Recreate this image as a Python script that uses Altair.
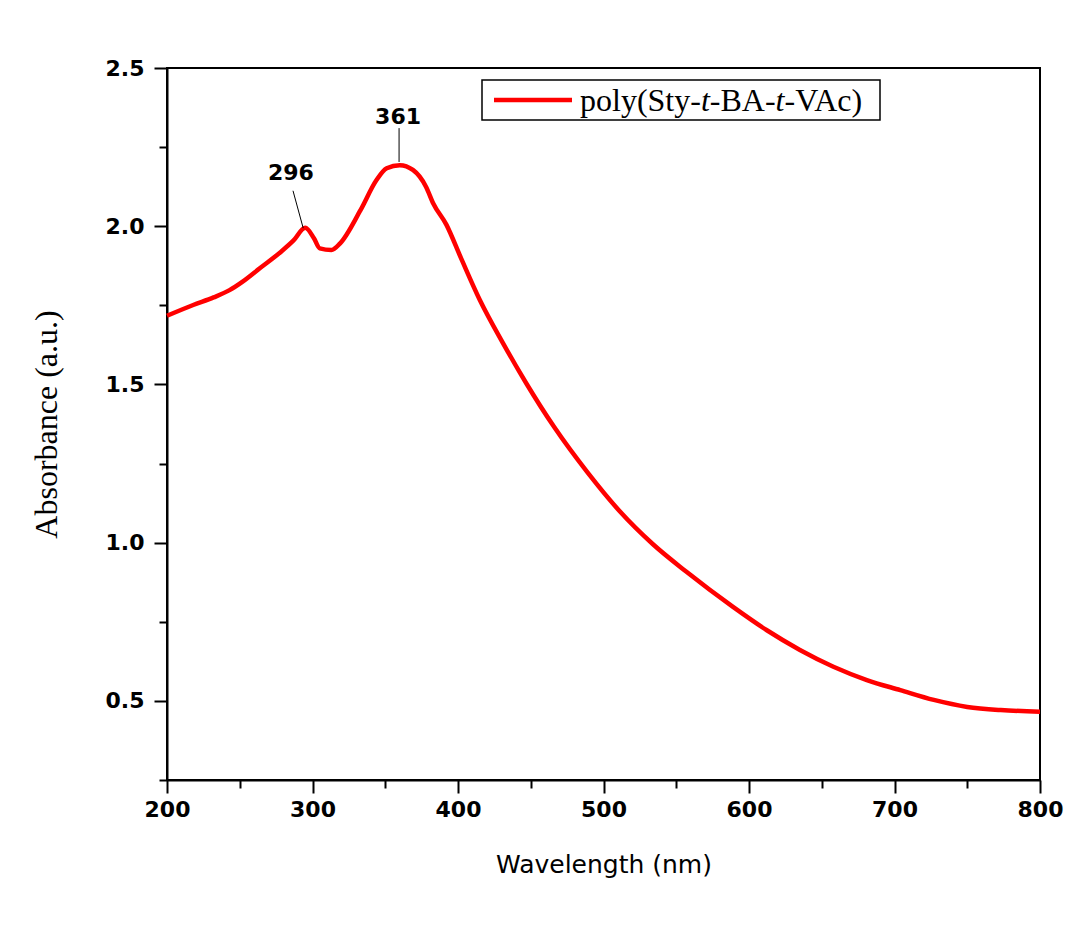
import altair as alt
import pandas as pd

# ---- data ----
wavelength = [200, 218, 232, 243, 252, 264, 278, 287, 295, 301, 305, 313, 319, 333, 344, 351,
              360, 369, 378, 383, 392, 402, 415, 431, 447, 466, 489, 511, 534, 557,
              589, 612, 635, 658, 681, 704, 727, 750, 773, 800]
absorbance = [1.717, 1.751, 1.775, 1.798, 1.825, 1.868, 1.918, 1.955, 1.995, 1.962, 1.930, 1.925,
              1.946, 2.051, 2.146, 2.183, 2.193, 2.178, 2.125, 2.072, 2.005, 1.900, 1.767,
              1.630, 1.503, 1.366, 1.222, 1.100, 0.995, 0.908, 0.797, 0.724, 0.661,
              0.608, 0.566, 0.534, 0.503, 0.481, 0.471, 0.466]

peak_labels = ["296", "361"]
label_x = [285.2, 358.8]
label_y = [2.168, 2.345]
lead_x1 = [286.6, 359.5]
lead_y1 = [2.112, 2.310]
lead_x2 = [293.6, 359.5]
lead_y2 = [1.994, 2.203]

x_ticks = [200, 250, 300, 350, 400, 450, 500, 550, 600, 650, 700, 750, 800]
y_ticks = [0.25, 0.5, 0.75, 1.0, 1.25, 1.5, 1.75, 2.0, 2.25, 2.5]

series_name = ["poly(Sty-", "t", "-BA-", "t", "-VAc)"]

df = pd.DataFrame({"Wavelength": wavelength, "Absorbance": absorbance})
ann = pd.DataFrame({"label": peak_labels, "lx": label_x, "ly": label_y,
                    "x1": lead_x1, "y1": lead_y1, "x2": lead_x2, "y2": lead_y2})
one = pd.DataFrame({"k": [0]})

xscale = alt.Scale(domain=[200, 800], nice=False, zero=False)
yscale = alt.Scale(domain=[0.25, 2.5], nice=False, zero=False)

xaxis = alt.Axis(
    title="Wavelength (nm)", values=x_ticks,
    labelExpr="datum.value % 100 === 0 ? datum.label : ''",
    tickSize={"condition": {"test": "datum.value % 100 === 0", "value": 13}, "value": 8},
    labelFont="DejaVu Sans", labelFontWeight="bold", labelFontSize=22, labelColor="black",
    labelPadding=6, labelFlush=False, labelOverlap=False,
    titleFont="DejaVu Sans", titleFontWeight="normal", titleFontSize=25, titleColor="black",
    titlePadding=32, domainColor="black", domainWidth=2, tickColor="black", tickWidth=2, grid=False,
)
yaxis = alt.Axis(
    title="Absorbance (a.u.)", values=y_ticks, format=".1f",
    labelExpr="datum.value % 0.5 === 0 ? datum.label : ''",
    tickSize={"condition": {"test": "datum.value % 0.5 === 0", "value": 13}, "value": 8},
    labelFont="DejaVu Sans", labelFontWeight="bold", labelFontSize=22, labelColor="black",
    labelPadding=10, labelFlush=False, labelOverlap=False,
    titleFont="Liberation Serif", titleFontWeight="normal", titleFontSize=32, titleColor="black",
    titlePadding=42, domainColor="black", domainWidth=2, tickColor="black", tickWidth=2, grid=False,
)

line = alt.Chart(df).mark_line(color="#ff0000", strokeWidth=4.5, interpolate="monotone").encode(
    x=alt.X("Wavelength:Q", scale=xscale, axis=xaxis),
    y=alt.Y("Absorbance:Q", scale=yscale, axis=yaxis),
)

leads = alt.Chart(ann).mark_rule(color="black", strokeWidth=1).encode(
    x="x1:Q", y="y1:Q", x2="x2:Q", y2="y2:Q")

labels = alt.Chart(ann).mark_text(font="DejaVu Sans", fontWeight="bold", fontSize=22,
                                  color="black", align="center", baseline="middle").encode(
    x="lx:Q", y="ly:Q", text="label:N")

# legend (manual, so the 't' can be italic)
box = alt.Chart(one).mark_rect(fill="white", stroke="black", strokeWidth=1.5).encode(
    x=alt.value(315), x2=alt.value(713), y=alt.value(12), y2=alt.value(52))
sample = alt.Chart(one).mark_rule(color="#ff0000", strokeWidth=4.5).encode(
    x=alt.value(327), x2=alt.value(405), y=alt.value(32))

seg_x = [413, 533.9, 542.8, 608.6, 617.5]
segs = []
for s, px in zip(series_name, seg_x):
    segs.append(alt.Chart(one).mark_text(
        font="Liberation Serif", fontSize=32, fontStyle="italic" if s == "t" else "normal",
        color="black", align="left", baseline="middle").encode(
        x=alt.value(px), y=alt.value(33), text=alt.value(s)))

chart = alt.layer(line, leads, labels, box, sample, *segs).properties(
    width=873, height=712,
    autosize=alt.AutoSizeParams(type="none"),
    padding={"left": 159, "top": 60, "right": 26, "bottom": 120},
    background="white",
).configure_view(stroke="black", strokeWidth=2)

chart.save("out.html", embed_options={"renderer": "svg", "actions": False})
